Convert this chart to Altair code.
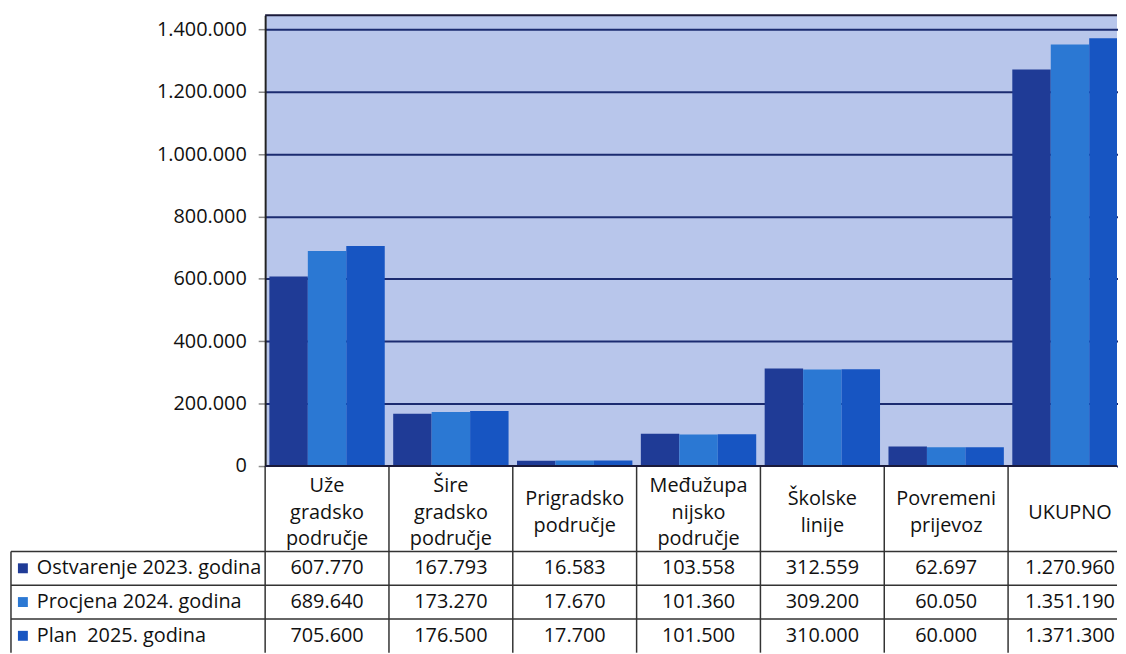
import altair as alt
import pandas as pd

categories = ["Uže gradsko područje", "Šire gradsko područje", "Prigradsko područje",
              "Međužupanijsko područje", "Školske linije", "Povremeni prijevoz", "UKUPNO"]
header_labels = ["Uže\ngradsko\npodručje", "Šire\ngradsko\npodručje", "Prigradsko\npodručje",
                 "Međužupa\nnijsko\npodručje", "Školske\nlinije", "Povremeni\nprijevoz", "UKUPNO"]
series = ["Ostvarenje 2023. godina", "Procjena 2024. godina", "Plan \u00a02025. godina"]
ostvarenje_2023 = [607770, 167793, 16583, 103558, 312559, 62697, 1270960]
procjena_2024 = [689640, 173270, 17670, 101360, 309200, 60050, 1351190]
plan_2025 = [705600, 176500, 17700, 101500, 310000, 60000, 1371300]
y_ticks = [0, 200000, 400000, 600000, 800000, 1000000, 1200000, 1400000]

colors = ["#1f3b96", "#2b78d3", "#1755c2"]
FONT = "Open Sans"
FS = 20
W = 858
RANGE_W = 873
TOP_H = 454
TAB_H = 188
HEADER_H = 86
LINE_H = 26.5

rows = []
for s, vals in zip(series, [ostvarenje_2023, procjena_2024, plan_2025]):
    for c, v in zip(categories, vals):
        rows.append({"category": c, "series": s, "value": v,
                     "label": f"{v:,}".replace(",", ".")})
df = pd.DataFrame(rows)
hdr = pd.DataFrame({"category": categories, "header": header_labels})
ser = pd.DataFrame({"series": series})
one = pd.DataFrame({"a": [0]})

xscale = alt.Scale(domain=categories, range=[0, RANGE_W], paddingInner=0, paddingOuter=0)
cscale = alt.Scale(domain=series, range=colors)

bars = alt.Chart(df).mark_bar(clip=True).encode(
    x=alt.X("category:N", scale=xscale, axis=None, sort=categories),
    xOffset=alt.XOffset("series:N", sort=series,
                        scale=alt.Scale(domain=series, paddingOuter=0.11, paddingInner=0)),
    y=alt.Y("value:Q", scale=alt.Scale(domain=[0, 1445000], nice=False),
            axis=alt.Axis(values=y_ticks, grid=True, gridColor="#1b2b70", gridWidth=2,
                          domainColor="#222222", domainWidth=2, tickColor="#8a8a8a",
                          tickSize=7, tickWidth=1.5, labelFontSize=FS, labelFont=FONT,
                          labelColor="#111111", labelPadding=12, title=None,
                          labelExpr="replace(format(datum.value, ','), regexp(',', 'g'), '.')")),
    color=alt.Color("series:N", scale=cscale, legend=None),
)
top_border = alt.Chart(one).mark_rule(color="#1a1a3a", strokeWidth=2).encode(
    y=alt.value(0), x=alt.value(0), x2=alt.value(W)
)
top = alt.layer(bars, top_border).properties(
    width=W, height=TOP_H, view=alt.ViewBackground(fill="#b8c6eb", stroke=None)
)

row_scale = alt.Scale(domain=series, range=[HEADER_H, TAB_H], paddingInner=0, paddingOuter=0)
yrow = alt.Y("series:N", sort=series, axis=None, scale=row_scale)

header = alt.Chart(hdr).transform_calculate(
    ypos=f"{HEADER_H / 2 + 4} - (length(split(datum.header, '\\n')) - 1) * {LINE_H / 2}"
).mark_text(lineBreak="\n", lineHeight=LINE_H, baseline="middle",
            fontSize=FS, font=FONT, color="#111111").encode(
    x=alt.X("category:N", scale=xscale, axis=None, sort=categories),
    y=alt.Y("ypos:Q", scale=None, axis=None),
    text="header:N",
)
vals = alt.Chart(df).mark_text(baseline="middle", fontSize=FS, font=FONT, color="#111111").encode(
    x=alt.X("category:N", scale=xscale, axis=None, sort=categories),
    y=yrow,
    text="label:N",
)
row_labels = alt.Chart(ser).mark_text(align="left", baseline="middle", fontSize=FS, font=FONT,
                                      color="#111111").encode(
    x=alt.value(-230), y=yrow, text="series:N"
)
squares = alt.Chart(ser).mark_square(size=100, opacity=1, filled=True).encode(
    x=alt.value(-244), y=yrow, color=alt.Color("series:N", scale=cscale, legend=None)
)
hlines = alt.Chart(ser).mark_rule(color="#333333", strokeWidth=1.5).encode(
    y=alt.Y("series:N", sort=series, axis=None, bandPosition=0, scale=row_scale),
    x=alt.value(-256), x2=alt.value(W),
)
vlines = alt.Chart(hdr).mark_rule(color="#333333", strokeWidth=1.5).encode(
    x=alt.X("category:N", scale=xscale, axis=None, sort=categories, bandPosition=0),
    y=alt.value(0), y2=alt.value(TAB_H),
)
left_box = alt.Chart(one).mark_rule(color="#333333", strokeWidth=1.5).encode(
    x=alt.value(-256), y=alt.value(HEADER_H), y2=alt.value(TAB_H)
)
table_top = alt.Chart(one).mark_rule(color="#1a1a3a", strokeWidth=2).encode(
    y=alt.value(0), x=alt.value(0), x2=alt.value(W)
)
table = alt.layer(hlines, vlines, left_box, table_top, header, vals, squares, row_labels).properties(
    width=W, height=TAB_H, view=alt.ViewBackground(fill="white", stroke=None)
)

chart = alt.vconcat(top, table, spacing=0, bounds="flush").properties(
    padding={"left": 2, "top": 4, "right": 0, "bottom": 0},
    background="white",
).resolve_scale(x="shared", y="independent", color="shared")

chart.save("out.html", embed_options={"renderer": "svg", "actions": False})
